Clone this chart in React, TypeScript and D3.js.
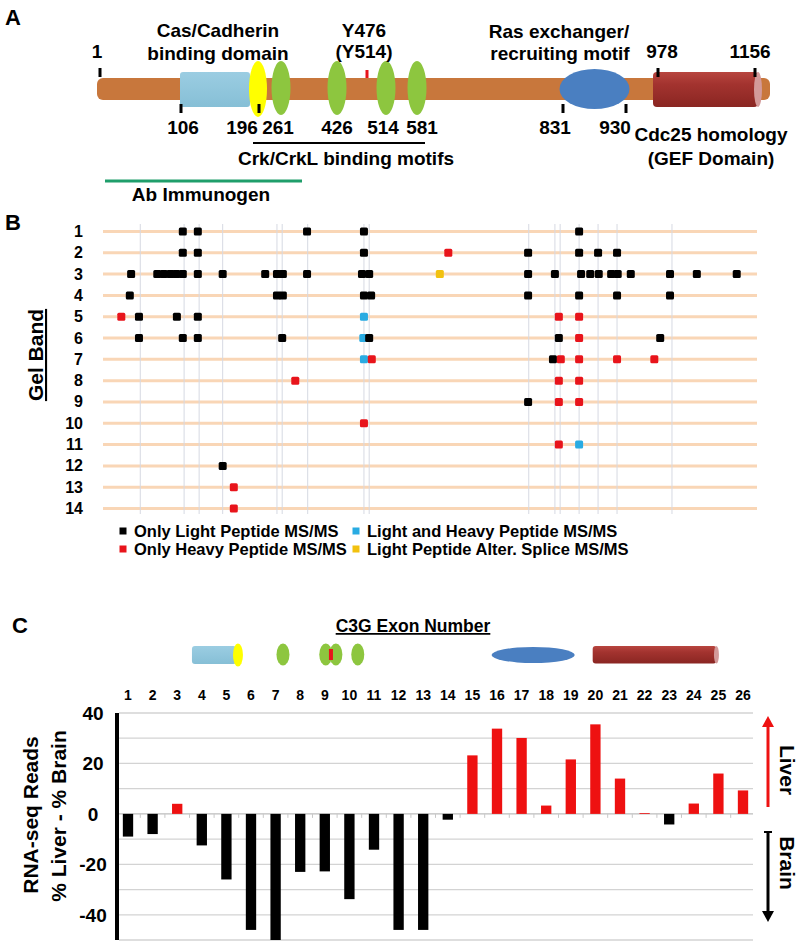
import React from 'react';
import * as d3 from 'd3';

const FONT = '"Liberation Sans", Arial, Helvetica, sans-serif';

// ---------------- Panel A : C3G protein schematic ----------------
const residueMarks = [1, 106, 196, 261, 426, 476, 514, 581, 831, 930, 978, 1156];
const residueScreen = [100, 181, 259, 281, 337, 367, 386, 417, 563, 626, 658, 755];
const topTickResidues = [1, 978, 1156];
const bottomTickResidues = [106, 196, 831, 930];
const bottomLabelResidues = [106, 196, 261, 426, 514, 581, 831, 930];
const bottomLabelNudge = [2, -17, -3, 0, -3, 5, -8, -11];
const crkMotifResidues = [261, 426, 514, 581];
const phosphoResidue = 476;

// ---------------- Panel B : peptides per gel band ----------------
const gelBands = d3.range(1, 15);
// [gel band, position along sequence in %]
const lightOnly: [number, number][] = [
  [1, 12.2], [1, 14.5], [1, 31.2], [1, 39.9], [1, 72.8],
  [2, 12.2], [2, 14.5], [2, 39.9], [2, 65.0], [2, 72.8], [2, 75.7], [2, 78.6],
  [3, 4.3], [3, 8.3], [3, 9.3], [3, 10.3], [3, 11.2], [3, 12.2], [3, 14.5], [3, 18.3], [3, 24.8],
  [3, 26.6], [3, 27.5], [3, 31.2], [3, 39.6], [3, 40.7], [3, 65.0], [3, 69.1], [3, 73.1], [3, 74.5],
  [3, 75.8], [3, 77.7], [3, 78.7], [3, 80.7], [3, 86.7], [3, 90.8], [3, 96.9],
  [4, 4.1], [4, 26.6], [4, 27.5], [4, 39.9], [4, 41.0], [4, 65.0], [4, 72.8], [4, 78.6], [4, 86.7],
  [5, 5.5], [5, 11.3], [5, 14.5],
  [6, 5.5], [6, 12.2], [6, 14.5], [6, 27.4], [6, 40.7], [6, 69.7], [6, 85.2],
  [7, 68.8],
  [9, 65.0],
  [12, 18.3],
];
const heavyOnly: [number, number][] = [
  [2, 52.8],
  [5, 2.8], [5, 69.7], [5, 72.8],
  [6, 72.8],
  [7, 41.1], [7, 70.0], [7, 72.8], [7, 78.6], [7, 84.3],
  [8, 29.4], [8, 69.7], [8, 72.8],
  [9, 69.7], [9, 72.8],
  [10, 39.9],
  [11, 69.7],
  [13, 20.0],
  [14, 20.0],
];
const lightAndHeavy: [number, number][] = [[5, 39.9], [6, 39.8], [7, 39.9], [11, 72.8]];
const altSplice: [number, number][] = [[3, 51.5]];
const exonBoundaries = [5.7, 12.4, 14.7, 18.3, 26.6, 27.4, 31.3, 39.9, 40.7, 65.1, 69.1, 69.9, 72.8, 75.7, 78.6, 87.0];
const legendItems = [
  { label: 'Only Light Peptide MS/MS', color: '#000000' },
  { label: 'Light and Heavy Peptide MS/MS', color: '#29abe2' },
  { label: 'Only Heavy Peptide MS/MS', color: '#e8141b' },
  { label: 'Light Peptide Alter. Splice MS/MS', color: '#f2c10f' },
];

// ---------------- Panel C : RNA-seq exon differences ----------------
const exons = d3.range(1, 27).map(String);
const exonDiff = [-9, -8, 4, -12.5, -26, -46, -50, -23, -22.8, -33.8, -14.2, -46, -46, -2.3,
  23.2, 33.8, 30.1, 3.3, 21.6, 35.5, 14, 0.3, -4.2, 4.1, 16, 9.3];
const yTicks = [40, 20, 0, -20, -40];
const gridValues = d3.range(-50, 41, 10);

export default function App() {
  // Panel A scale
  const xa = d3.scaleLinear().domain(residueMarks).range(residueScreen);
  const barY = 78, barH = 22, barMid = barY + barH / 2;

  // Panel B scales
  const xb = d3.scaleLinear().domain([0, 100]).range([103, 757]);
  const yb = d3.scalePoint<number>().domain(gelBands).range([231.5, 508.5]);
  const sq = 8;

  // Panel C scales
  const xc = d3.scaleBand<string>().domain(exons).range([115.7, 755.3]).paddingInner(0.58).paddingOuter(0.29);
  const yc = d3.scaleLinear().domain([-50, 40]).range([940, 713]);
  const xe = d3.scaleLinear().domain([1, 26]).range([
    (xc('1') as number) + xc.bandwidth() / 2,
    (xc('26') as number) + xc.bandwidth() / 2,
  ]);
  const iconY = 655;

  const bold = { fontFamily: FONT, fontWeight: 700 as const };

  const squares = (data: [number, number][], color: string, key: string) =>
    data.map(([band, pos], i) => (
      <rect key={key + i} x={xb(pos) - sq / 2} y={(yb(band) as number) - sq / 2} width={sq} height={sq}
        rx={1.5} fill={color} />
    ));

  return (
    <svg width={800} height={946} style={{ position: 'absolute', left: 0, top: 0, background: '#fff' }}
      xmlns="http://www.w3.org/2000/svg">
      <defs>
        <linearGradient id="cyl" x1="0" y1="0" x2="0" y2="1">
          <stop offset="0" stopColor="#b8453f" />
          <stop offset="0.35" stopColor="#a3332f" />
          <stop offset="1" stopColor="#8a2622" />
        </linearGradient>
        <linearGradient id="lb" x1="0" y1="0" x2="0" y2="1">
          <stop offset="0" stopColor="#9bcde2" />
          <stop offset="1" stopColor="#86bfd6" />
        </linearGradient>
      </defs>

      {/* ================= Panel A ================= */}
      <text x={5} y={25} {...bold} fontSize={22}>A</text>
      <rect x={xa(1) - 3} y={barY} width={xa(1156) + 15 - (xa(1) - 3)} height={barH} rx={6} fill="#c8773c" />
      {/* Cas/Cadherin box */}
      <rect x={xa(106) - 1} y={72} width={xa(196) - 8 - xa(106)} height={35} rx={3} fill="url(#lb)" />
      <ellipse cx={xa(196) - 1} cy={barMid} rx={9} ry={28} fill="#ffff00" />
      {crkMotifResidues.map((r, i) => (
        <ellipse key={'g' + i} cx={xa(r)} cy={barMid - 1} rx={9.5} ry={27} fill="#8dc63f" />
      ))}
      <rect x={xa(phosphoResidue) - 1.5} y={70} width={3} height={8} fill="#e8141b" />
      {/* Ras exchanger ellipse */}
      <ellipse cx={(xa(831) + xa(930)) / 2} cy={barMid} rx={35} ry={20} fill="#4a7fc1" />
      {/* Cdc25 cylinder */}
      <rect x={xa(978) - 5} y={72} width={xa(1156) + 3 - (xa(978) - 5)} height={35} rx={4} fill="url(#cyl)" />
      <ellipse cx={xa(1156) + 3} cy={89.5} rx={4} ry={17.5} fill="#d39a9a" />

      {topTickResidues.map((r, i) => (
        <rect key={'tt' + i} x={xa(r) - 1.5} y={68} width={3} height={9} fill="#000" />
      ))}
      {bottomTickResidues.map((r, i) => (
        <rect key={'bt' + i} x={xa(r) - 1.5} y={104} width={3} height={9} fill="#000" />
      ))}
      {bottomLabelResidues.map((r, i) => (
        <text key={'bl' + i} x={xa(r) + bottomLabelNudge[i]} y={134} textAnchor="middle" {...bold} fontSize={19}>{r}</text>
      ))}
      <text x={xa(1) - 3} y={58} textAnchor="middle" {...bold} fontSize={19}>1</text>
      <text x={xa(978) + 4} y={58} textAnchor="middle" {...bold} fontSize={19}>978</text>
      <text x={xa(1156) - 5} y={58} textAnchor="middle" {...bold} fontSize={19}>1156</text>

      <text x={218} y={37} textAnchor="middle" {...bold} fontSize={19}>Cas/Cadherin</text>
      <text x={218} y={60} textAnchor="middle" {...bold} fontSize={19}>binding domain</text>
      <text x={364} y={37} textAnchor="middle" {...bold} fontSize={19}>Y476</text>
      <text x={364} y={58} textAnchor="middle" {...bold} fontSize={19}>(Y514)</text>
      <text x={559} y={38} textAnchor="middle" {...bold} fontSize={19}>Ras exchanger/</text>
      <text x={560} y={60} textAnchor="middle" {...bold} fontSize={19}>recruiting motif</text>
      <text x={711} y={141} textAnchor="middle" {...bold} fontSize={19}>Cdc25 homology</text>
      <text x={711} y={165} textAnchor="middle" {...bold} fontSize={19}>(GEF Domain)</text>

      <line x1={xa(196) - 6} x2={xa(581) + 8} y1={143} y2={143} stroke="#000" strokeWidth={2} />
      <text x={346} y={165} textAnchor="middle" {...bold} fontSize={19}>Crk/CrkL binding motifs</text>

      <line x1={105} x2={302} y1={181} y2={181} stroke="#1f9e6b" strokeWidth={3} />
      <text x={201} y={201} textAnchor="middle" {...bold} fontSize={19}>Ab Immunogen</text>

      {/* ================= Panel B ================= */}
      <text x={5} y={230} {...bold} fontSize={22}>B</text>
      <text transform={`translate(43, 355) rotate(-90)`} textAnchor="middle" {...bold} fontSize={21}
        textDecoration="underline">Gel Band</text>
      {gelBands.map((b) => (
        <line key={'row' + b} x1={xb(0)} x2={xb(100)} y1={yb(b)} y2={yb(b)} stroke="#f9d6b6" strokeWidth={3} />
      ))}
      {exonBoundaries.map((p, i) => (
        <line key={'vb' + i} x1={xb(p)} x2={xb(p)} y1={224} y2={514} stroke="#d6d9e2" strokeWidth={1} />
      ))}
      {gelBands.map((b) => (
        <text key={'rl' + b} x={83} y={(yb(b) as number) + 5.5} textAnchor="end" {...bold} fontSize={16}>{b}</text>
      ))}
      {squares(altSplice, '#f2c10f', 'y')}
      {squares(lightAndHeavy, '#29abe2', 'c')}
      {squares(lightOnly, '#000000', 'k')}
      {squares(heavyOnly, '#e8141b', 'r')}

      {legendItems.map((it, i) => {
        const col = i % 2, row = Math.floor(i / 2);
        const lx = col === 0 ? 123 : 356;
        const ly = 531 + row * 18;
        return (
          <g key={'lg' + i}>
            <rect x={lx - 3.5} y={ly - 3.5} width={7} height={7} fill={it.color} />
            <text x={lx + 11} y={ly + 6} {...bold} fontSize={16.5}>{it.label}</text>
          </g>
        );
      })}

      {/* ================= Panel C ================= */}
      <text x={12} y={633} {...bold} fontSize={22}>C</text>
      <text x={413} y={632} textAnchor="middle" {...bold} fontSize={17.5} textDecoration="underline">C3G Exon Number</text>

      {/* icons */}
      <rect x={xe(3.6)} y={iconY - 9} width={xe(5.4) - xe(3.6)} height={18} rx={3} fill="url(#lb)" />
      <ellipse cx={xe(5.47)} cy={iconY} rx={5} ry={11.5} fill="#ffff00" />
      {[7.3, 9.04, 9.45, 10.34].map((e, i) => (
        <ellipse key={'ci' + i} cx={xe(e)} cy={iconY - 0.5} rx={6.5} ry={11} fill="#8dc63f" />
      ))}
      <rect x={xe(9.25) - 2} y={iconY - 6} width={4} height={11} fill="#e8141b" />
      <ellipse cx={(xe(15.78) + xe(19.16)) / 2} cy={iconY} rx={(xe(19.16) - xe(15.78)) / 2} ry={8} fill="#4a7fc1" />
      <rect x={xe(19.89)} y={iconY - 9} width={xe(24.92) - xe(19.89)} height={17.5} rx={3} fill="url(#cyl)" />
      <ellipse cx={xe(24.92)} cy={iconY - 0.25} rx={2.5} ry={8.75} fill="#d39a9a" />

      {exons.map((e) => (
        <text key={'ex' + e} x={(xc(e) as number) + xc.bandwidth() / 2} y={700} textAnchor="middle" {...bold} fontSize={14}>{e}</text>
      ))}

      {gridValues.map((v) => (
        <line key={'gr' + v} x1={119} x2={753} y1={yc(v)} y2={yc(v)} stroke={v === 0 ? '#bdbdbd' : '#d3d3d3'} strokeWidth={1.3} />
      ))}
      {exons.slice(1).map((e) => (
        <line key={'ct' + e} x1={(xc(e) as number) - xc.step() * 0.29} x2={(xc(e) as number) - xc.step() * 0.29}
          y1={yc(0)} y2={yc(0) + 4} stroke="#c8c8c8" strokeWidth={1} />
      ))}
      {exons.map((e, i) => {
        const v = exonDiff[i];
        return (
          <rect key={'bar' + e} x={xc(e)} width={xc.bandwidth()}
            y={v >= 0 ? yc(v) : yc(0)} height={Math.max(0.8, Math.abs(yc(v) - yc(0)))}
            fill={v >= 0 ? '#ee1111' : '#000000'} />
        );
      })}
      <line x1={117} x2={117} y1={yc(40)} y2={yc(-50)} stroke="#000" strokeWidth={4} />
      {yTicks.map((t) => (
        <text key={'yt' + t} x={93} y={yc(t) + 7} textAnchor="middle" {...bold} fontSize={19}>{t}</text>
      ))}
      <text transform={`translate(38, 815) rotate(-90)`} textAnchor="middle" {...bold} fontSize={21}>RNA-seq Reads</text>
      <text transform={`translate(66, 816) rotate(-90)`} textAnchor="middle" {...bold} fontSize={21}>% Liver - % Brain</text>

      {/* Liver / Brain arrows */}
      <line x1={768} x2={768} y1={807} y2={724} stroke="#ee1111" strokeWidth={3} />
      <polygon points="762,727 774,727 768,716" fill="#ee1111" />
      <text transform={`translate(780, 770) rotate(90)`} textAnchor="middle" {...bold} fontSize={21}>Liver</text>
      <line x1={768} x2={768} y1={832} y2={914} stroke="#000" strokeWidth={3} />
      <line x1={764} x2={772} y1={832} y2={832} stroke="#000" strokeWidth={2} />
      <polygon points="762,911 774,911 768,922" fill="#000" />
      <text transform={`translate(780, 863) rotate(90)`} textAnchor="middle" {...bold} fontSize={21}>Brain</text>
    </svg>
  );
}
